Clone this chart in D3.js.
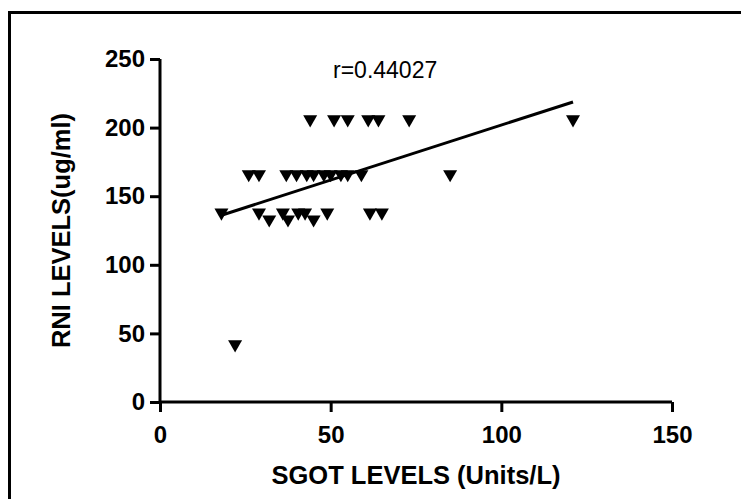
<!DOCTYPE html>
<html><head><meta charset="utf-8">
<script src="https://cdn.jsdelivr.net/npm/d3@7"></script>
<style>body{margin:0;background:#fff}svg{display:block}text{font-family:"Liberation Sans",Arial,sans-serif}</style>
</head><body><div id="c"></div>
<script>
const sgot = [44, 51, 55, 61, 64, 73, 121,
  26, 29, 37, 40, 43, 45, 48, 50, 53, 55, 59, 85,
  18, 29, 32, 36, 37.5, 40.5, 42.5, 45, 49, 61.5, 65, 22];
const rni = [206, 206, 206, 206, 206, 206, 206,
  166, 166, 166, 166, 166, 166, 166, 166, 166, 166, 166, 166,
  138, 138, 133, 138, 133, 138, 138, 133, 138, 138, 138, 42];
const fitSlope = 0.8016, fitIntercept = 121.7;
const rLabel = "r=0.44027";
const xTicks = [0, 50, 100, 150];
const yTicks = [0, 50, 100, 150, 200, 250];
const xTitle = "SGOT LEVELS (Units/L)";
const yTitle = "RNI LEVELS(ug/ml)";

const W = 741, H = 499;
const svg = d3.select("#c").append("svg").attr("width", W).attr("height", H);
svg.append("rect").attr("x", 9.5).attr("y", 12.5).attr("width", 760).attr("height", 520)
  .attr("fill", "none").attr("stroke", "#000").attr("stroke-width", 3);

const x = d3.scaleLinear().domain([0, 150]).range([160, 672]);
const y = d3.scaleLinear().domain([0, 250]).range([402, 59]);

const gx = svg.append("g").attr("transform", "translate(0,402)")
  .call(d3.axisBottom(x).tickValues(xTicks).tickSize(10).tickPadding(14));
const gy = svg.append("g").attr("transform", "translate(160,0)")
  .call(d3.axisLeft(y).tickValues(yTicks).tickSize(10).tickPadding(5));
[gx, gy].forEach(g => {
  g.select(".domain").attr("stroke-width", 3);
  g.selectAll(".tick line").attr("stroke-width", 3);
  g.selectAll(".tick text").attr("font-size", 24).attr("font-weight", "bold").attr("fill", "#000")
    .attr("font-family", "Liberation Sans, Arial, sans-serif");
});
gx.select(".domain").attr("d", `M${x(0)},0H${x(150)}`);
gy.select(".domain").attr("d", `M0,${y(0)}V${y(250)}`);

const xs = d3.extent(sgot);
svg.append("line")
  .attr("x1", x(xs[0])).attr("y1", y(fitIntercept + fitSlope * xs[0]))
  .attr("x2", x(xs[1])).attr("y2", y(fitIntercept + fitSlope * xs[1]))
  .attr("stroke", "#000").attr("stroke-width", 3);

const tri = d3.symbol().type(d3.symbolTriangle).size(85);
svg.append("g").selectAll("path").data(sgot).join("path")
  .attr("d", tri)
  .attr("transform", (d, i) => `translate(${x(d)},${y(rni[i])}) rotate(180)`)
  .attr("fill", "#000");

svg.append("text").attr("x", 333).attr("y", 78).attr("font-size", 23).text(rLabel);
svg.append("text").attr("x", (x(0) + x(150)) / 2).attr("y", 484).attr("text-anchor", "middle")
  .attr("font-size", 25.5).attr("font-weight", "bold").text(xTitle);
svg.append("text").attr("transform", `translate(70,${(y(0) + y(250)) / 2}) rotate(-90)`)
  .attr("text-anchor", "middle").attr("font-size", 25.5).attr("font-weight", "bold").text(yTitle);
</script></body></html>
